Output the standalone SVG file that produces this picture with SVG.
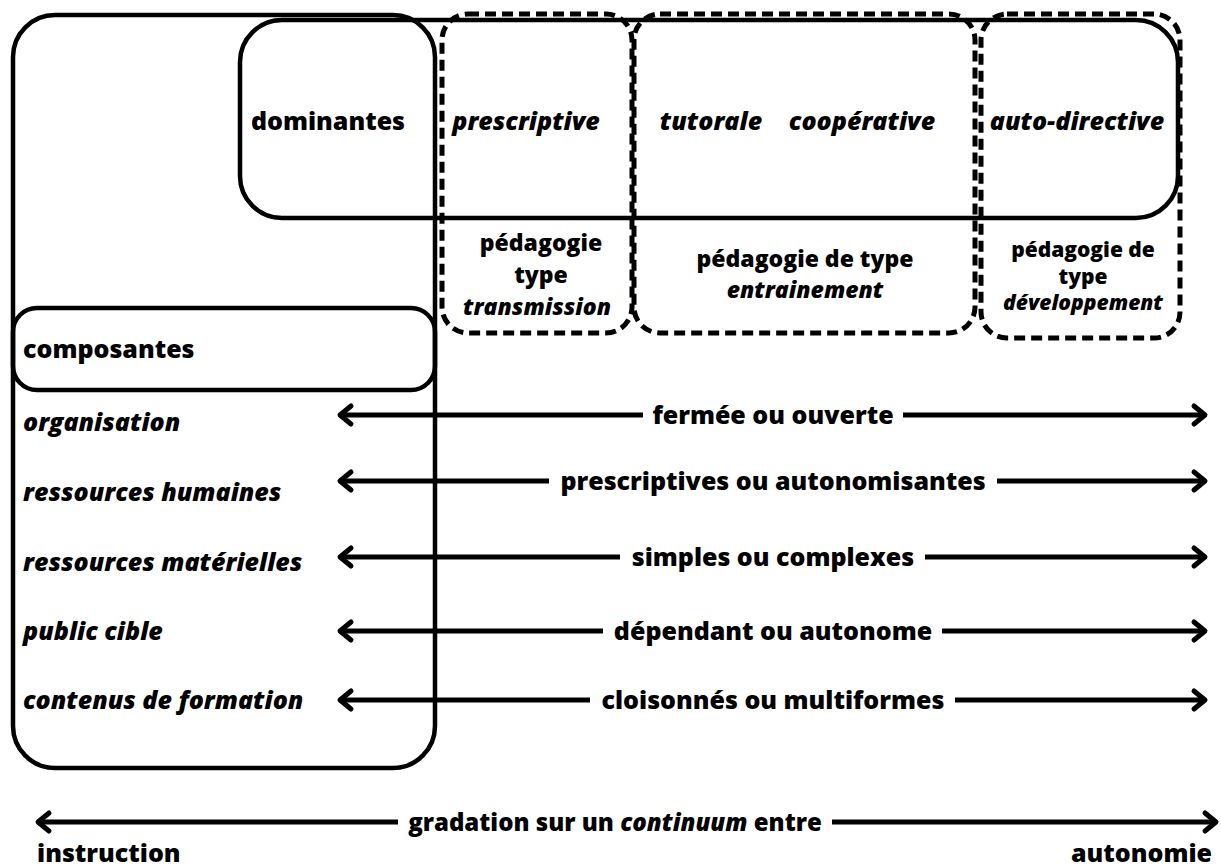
<svg xmlns="http://www.w3.org/2000/svg" width="1221" height="868" viewBox="0 0 1221 868">
<defs>
<style>
.box{fill:none;stroke:#000;stroke-width:4.5}
.dash{fill:none;stroke:#000;stroke-width:5;stroke-dasharray:11 6}
.ln{fill:none;stroke:#000;stroke-width:5;stroke-linecap:butt}
.hd{fill:none;stroke:#000;stroke-width:5;stroke-linecap:round;stroke-linejoin:round}
text{font-family:"Open Sans","Noto Sans","DejaVu Sans",sans-serif;font-weight:800;fill:#000}
.t{font-size:25px}
.g{font-size:24px}
.it{font-style:italic}
.s{font-size:23px}
.xs{font-size:21px}
</style>
</defs>
<rect width="1221" height="868" fill="#fff"/>
<g id="node-composantes-outer">
<rect class="box" x="13" y="15" width="422" height="753" rx="42"/>
</g>
<g id="node-dominantes">
<rect class="box" x="240" y="20" width="938" height="198" rx="42"/>
<text class="t" x="328" y="130" text-anchor="middle">dominantes</text>
</g>
<g id="node-transmission">
<rect class="dash" x="442" y="14" width="190" height="319" rx="26"/>
<text class="t it" x="526" y="130" text-anchor="middle">prescriptive</text>
<text class="s" x="541" y="251" text-anchor="middle">pédagogie</text>
<text class="s" x="541" y="283" text-anchor="middle">type</text>
<text class="s it" x="537" y="315" text-anchor="middle">transmission</text>
</g>
<g id="node-entrainement">
<rect class="dash" x="634" y="14" width="341" height="319" rx="26"/>
<text class="t it" x="711" y="130" text-anchor="middle">tutorale</text>
<text class="t it" x="862" y="130" text-anchor="middle">coopérative</text>
<text class="s" x="805" y="267" text-anchor="middle">pédagogie de type</text>
<text class="s it" x="805" y="298" text-anchor="middle">entrainement</text>
</g>
<g id="node-developpement">
<rect class="dash" x="981" y="14" width="199" height="324" rx="26"/>
<text class="t it" x="1077" y="130" text-anchor="middle">auto-directive</text>
<text class="xs" x="1083" y="257" text-anchor="middle">pédagogie de</text>
<text class="xs" x="1083" y="284" text-anchor="middle">type</text>
<text class="xs it" x="1083" y="310" text-anchor="middle">développement</text>
</g>
<g id="node-composantes">
<rect class="box" x="13" y="308" width="422" height="82" rx="24"/>
<text class="t" x="23" y="358">composantes</text>
</g>
<g id="labels-left">
<text class="t it" x="23" y="431">organisation</text>
<text class="t it" x="23" y="501">ressources humaines</text>
<text class="t it" x="23" y="571">ressources matérielles</text>
<text class="t it" x="23" y="640">public cible</text>
<text class="t it" x="23" y="709">contenus de formation</text>
</g>
<g id="connectors">
<line class="ln" x1="340" y1="415" x2="643" y2="415"/>
<line class="ln" x1="903" y1="415" x2="1205" y2="415"/>
<line class="ln" x1="340" y1="481" x2="549" y2="481"/>
<line class="ln" x1="997" y1="481" x2="1205" y2="481"/>
<line class="ln" x1="340" y1="557" x2="620" y2="557"/>
<line class="ln" x1="925" y1="557" x2="1205" y2="557"/>
<line class="ln" x1="340" y1="631" x2="603" y2="631"/>
<line class="ln" x1="942" y1="631" x2="1205" y2="631"/>
<line class="ln" x1="340" y1="700" x2="590" y2="700"/>
<line class="ln" x1="955" y1="700" x2="1205" y2="700"/>
<line class="ln" x1="38" y1="822" x2="398" y2="822"/>
<line class="ln" x1="832" y1="822" x2="1216" y2="822"/>
<polyline class="hd" points="351,406 340,415 351,424"/>
<polyline class="hd" points="1194,406 1205,415 1194,424"/>
<polyline class="hd" points="351,472 340,481 351,490"/>
<polyline class="hd" points="1194,472 1205,481 1194,490"/>
<polyline class="hd" points="351,548 340,557 351,566"/>
<polyline class="hd" points="1194,548 1205,557 1194,566"/>
<polyline class="hd" points="351,622 340,631 351,640"/>
<polyline class="hd" points="1194,622 1205,631 1194,640"/>
<polyline class="hd" points="351,691 340,700 351,709"/>
<polyline class="hd" points="1194,691 1205,700 1194,709"/>
<polyline class="hd" points="49,813 38,822 49,831"/>
<polyline class="hd" points="1205,813 1216,822 1205,831"/>
<text class="t" x="773" y="424" text-anchor="middle">fermée ou ouverte</text>
<text class="t" x="773" y="490" text-anchor="middle">prescriptives ou autonomisantes</text>
<text class="t" x="773" y="566" text-anchor="middle">simples ou complexes</text>
<text class="t" x="773" y="640" text-anchor="middle">dépendant ou autonome</text>
<text class="t" x="773" y="709" text-anchor="middle">cloisonnés ou multiformes</text>
<text class="g" x="615" y="831" text-anchor="middle">gradation sur un <tspan class="it">continuum</tspan> entre</text>
<text class="t" x="37" y="862">instruction</text>
<text class="t" x="1212" y="862" text-anchor="end">autonomie</text>
</g>
</svg>
